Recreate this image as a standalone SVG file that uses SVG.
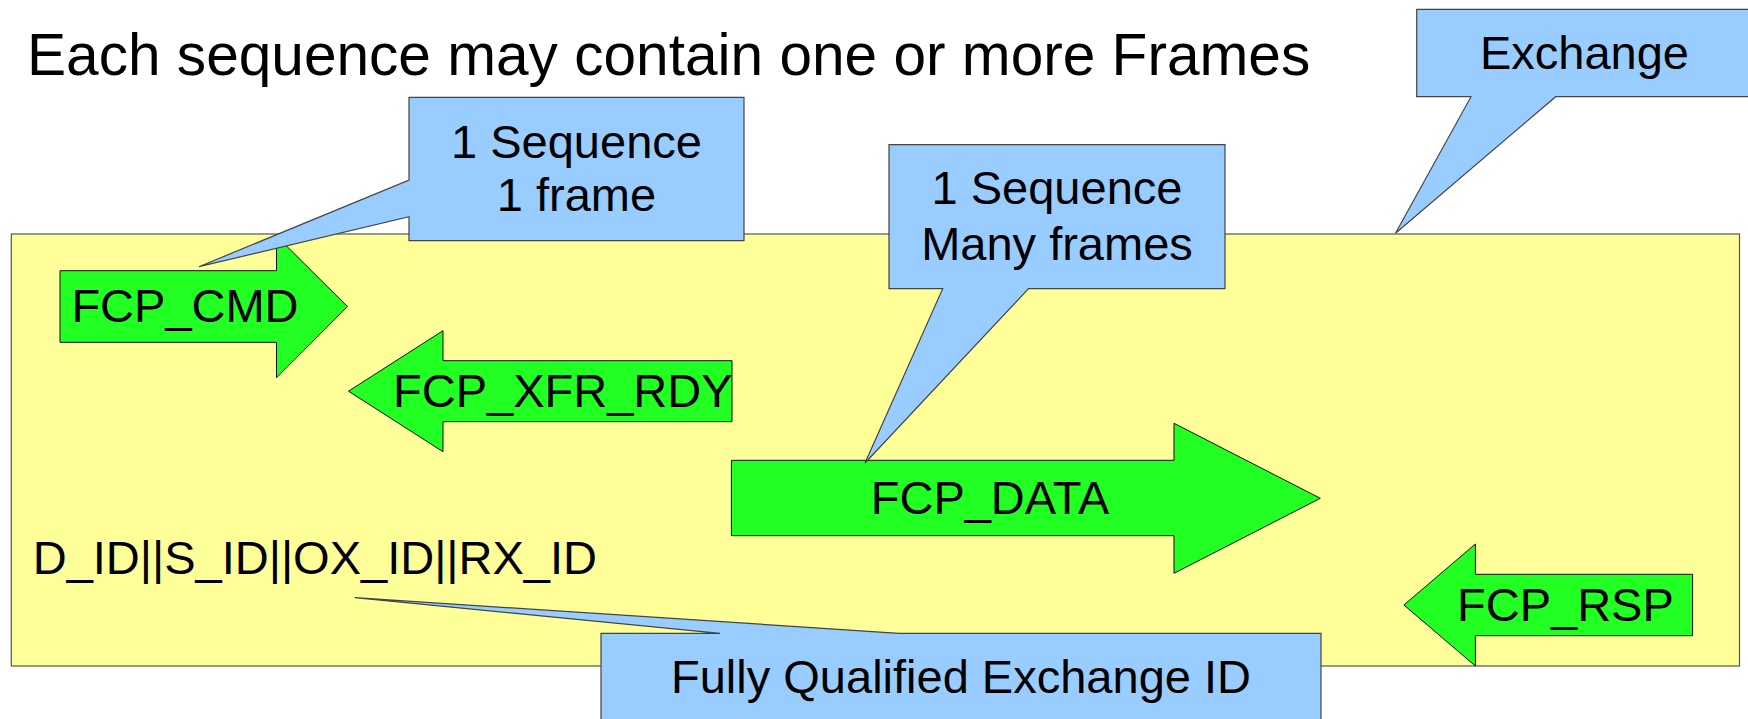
<svg xmlns="http://www.w3.org/2000/svg" width="1748" height="719" viewBox="0 0 1748 719">
<style>
text{font-family:"Liberation Sans",Arial,sans-serif;fill:#000}
.lbl{font-size:47px}
.title{font-size:58.6px}
.c{text-anchor:middle}
.exch{fill:#ffff99;stroke:#555;stroke-width:1.2}
.arrow{fill:#22ff22;stroke:#111;stroke-width:1}
.call{fill:#99ccff;stroke:#444;stroke-width:1.2;stroke-linejoin:miter}
</style>
<rect width="1748" height="719" fill="#fff"/>
<text id="title" class="title" x="27" y="75">Each sequence may contain one or more Frames</text>
<g id="exchange-box">
<rect class="exch" x="11.3" y="234" width="1728.2" height="432"/>
<text class="lbl" x="32.7" y="574">D_ID||S_ID||OX_ID||RX_ID</text>
</g>
<g id="fcp-cmd">
<path class="arrow" d="M60,270.7 H276.5 V236 L347.4,306.5 L276.5,377.7 V342.3 H60 Z"/>
<text class="lbl" x="71.4" y="321.7">FCP_CMD</text>
</g>
<g id="fcp-xfr-rdy">
<path class="arrow" d="M732,360.7 H443 V330.7 L348.5,391.2 L443,451.7 V421.7 H732 Z"/>
<text class="lbl" x="393" y="406.7">FCP_XFR_RDY</text>
</g>
<g id="fcp-data">
<path class="arrow" d="M731.4,460.3 H1174 V423.3 L1320.3,498.3 L1174,573.3 V535.7 H731.4 Z"/>
<text class="lbl c" x="990" y="514.3">FCP_DATA</text>
</g>
<g id="fcp-rsp">
<path class="arrow" d="M1692.6,574.3 H1475.4 V544 L1403.9,605 L1475.4,666 V635.7 H1692.6 Z"/>
<text class="lbl" x="1457" y="620.7">FCP_RSP</text>
</g>
<g id="callout-one-frame">
<path class="call" d="M409,97.3 H744 V240.7 H409 V216.7 L199,266.7 L409,180 Z"/>
<text class="lbl c" x="576.5" y="158.3">1 Sequence</text>
<text class="lbl c" x="576.5" y="210.7">1 frame</text>
</g>
<g id="callout-many-frames">
<path class="call" d="M889,144.7 H1225 V288.7 H1028.5 L865,463 L942.7,288.7 H889 Z"/>
<text class="lbl c" x="1057" y="204">1 Sequence</text>
<text class="lbl c" x="1057" y="260">Many frames</text>
</g>
<g id="callout-exchange">
<path class="call" d="M1416.7,9.3 H1760 V96.7 H1555.7 L1395.5,233.3 L1471,96.7 H1416.7 Z"/>
<text class="lbl c" x="1584.5" y="69.3">Exchange</text>
</g>
<g id="callout-fqxid">
<path class="call" d="M601,633.3 H720 L354.8,597.7 L899,633.3 H1321 V740 H601 Z"/>
<text class="lbl c" x="961" y="693.3">Fully Qualified Exchange ID</text>
</g>
<g id="connectors"/>
</svg>
